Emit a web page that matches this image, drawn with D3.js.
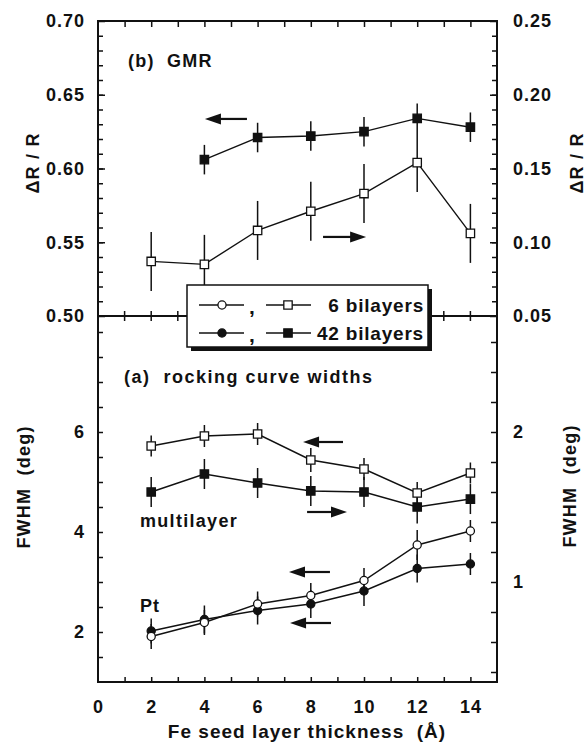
<!DOCTYPE html>
<html>
<head>
<meta charset="utf-8">
<script src="https://cdn.jsdelivr.net/npm/d3@7/dist/d3.min.js"></script>
<style>
  body { margin: 0; background: #fff; }
  svg text { font-family: "Liberation Sans", Arial, Helvetica, sans-serif; font-weight: bold; fill: #111; white-space: pre; }
</style>
</head>
<body>
<svg id="chart" width="587" height="744"></svg>
<script>
// Fe seed layer thickness (Å)
const thickness = [2, 4, 6, 8, 10, 12, 14];
const thickness42Gmr = [4, 6, 8, 10, 12, 14];

// (b) GMR : 42 bilayers on left axis, 6 bilayers on right axis
const gmr42 = [0.606, 0.621, 0.622, 0.625, 0.634, 0.628];
const gmr42Err = [0.010, 0.010, 0.010, 0.010, 0.010, 0.010];
const gmr6 = [0.087, 0.085, 0.108, 0.121, 0.133, 0.154, 0.106];
const gmr6Err = [0.020, 0.020, 0.020, 0.020, 0.020, 0.020, 0.020];

// (a) rocking curve widths, FWHM (deg)
const fwhm6Multi = [5.72, 5.92, 5.96, 5.44, 5.26, 4.78, 5.18];        // left axis
const fwhm6MultiErr = [0.21, 0.22, 0.22, 0.24, 0.22, 0.22, 0.21];
const fwhm42Multi = [1.60, 1.72, 1.66, 1.607, 1.60, 1.50, 1.553];     // right axis
const fwhm42MultiErr = [0.10, 0.10, 0.10, 0.10, 0.10, 0.11, 0.10];
const fwhm6Pt = [1.91, 2.19, 2.56, 2.73, 3.03, 3.74, 4.02];           // left axis
const fwhm6PtErr = [0.25, 0.25, 0.25, 0.25, 0.25, 0.30, 0.22];
const fwhm42Pt = [2.02, 2.25, 2.43, 2.56, 2.82, 3.27, 3.36];          // left axis
const fwhm42PtErr = [0.25, 0.28, 0.28, 0.28, 0.30, 0.28, 0.22];

// tick labels
const xTickLabels = [0, 2, 4, 6, 8, 10, 12, 14];
const gmrLeftTicks = [0.50, 0.55, 0.60, 0.65, 0.70];
const gmrRightTicks = [0.05, 0.10, 0.15, 0.20, 0.25];
const fwhmLeftTicks = [2, 4, 6];
const fwhmRightTicks = [1, 2];

const FRAME = { left: 98, right: 497, top: 21, mid: 316, bottom: 682 };
const svg = d3.select('#chart');

const x = d3.scaleLinear().domain([0, 15]).range([FRAME.left, FRAME.right]);
const yGmrLeft = d3.scaleLinear().domain([0.50, 0.70]).range([FRAME.mid, FRAME.top]);
const yGmrRight = d3.scaleLinear().domain([0.05, 0.25]).range([FRAME.mid, FRAME.top]);
const yFwhmLeft = d3.scaleLinear().domain([1, 8.32]).range([FRAME.bottom, FRAME.mid]);
const yFwhmRight = d3.scaleLinear().domain([1 / 3, 8.32 / 3]).range([FRAME.bottom, FRAME.mid]);

function styleAxis (g) {
  g.select('.domain').remove();
  g.selectAll('line').attr('stroke', '#111').attr('stroke-width', 1.5);
  g.selectAll('text')
    .attr('font-size', 18)
    .attr('letter-spacing', 1)
    .attr('fill', '#111');
}

function drawAxis (axis, tx, ty) {
  svg.append('g')
    .attr('transform', 'translate(' + tx + ',' + ty + ')')
    .call(axis)
    .call(styleAxis);
}

function range (a, b, step) {
  return d3.range(Math.round(a / step), Math.round(b / step) + 1).map(function (k) { return +(k * step).toFixed(4); });
}

// axes
drawAxis(d3.axisBottom(x).tickValues(d3.range(1, 15)).tickSizeInner(-5).tickSizeOuter(0).tickFormat(''), 0, FRAME.bottom);
drawAxis(d3.axisBottom(x).tickValues(xTickLabels).tickSize(0).tickPadding(18).tickFormat(d3.format('d')), 0, FRAME.bottom);
drawAxis(d3.axisTop(x).tickValues(d3.range(1, 15)).tickSizeInner(-6).tickSizeOuter(0).tickFormat(''), 0, FRAME.top);

drawAxis(d3.axisLeft(yGmrLeft).tickValues(range(0.51, 0.69, 0.01)).tickSizeInner(-5).tickSizeOuter(0).tickFormat(''), FRAME.left, 0);
drawAxis(d3.axisLeft(yGmrLeft).tickValues(gmrLeftTicks).tickSizeInner(-7).tickSizeOuter(0).tickPadding(13).tickFormat(d3.format('.2f')), FRAME.left, 0);
drawAxis(d3.axisRight(yGmrRight).tickValues(range(0.06, 0.24, 0.01)).tickSizeInner(-5).tickSizeOuter(0).tickFormat(''), FRAME.right, 0);
drawAxis(d3.axisRight(yGmrRight).tickValues(gmrRightTicks).tickSizeInner(-7).tickSizeOuter(0).tickPadding(16).tickFormat(d3.format('.2f')), FRAME.right, 0);

drawAxis(d3.axisLeft(yFwhmLeft).tickValues(range(1.5, 8, 0.5)).tickSizeInner(-5).tickSizeOuter(0).tickFormat(''), FRAME.left, 0);
drawAxis(d3.axisLeft(yFwhmLeft).tickValues(fwhmLeftTicks).tickSize(0).tickPadding(13).tickFormat(d3.format('d')), FRAME.left, 0);
drawAxis(d3.axisRight(yFwhmRight).tickValues(range(0.4, 2.6, 0.2)).tickSizeInner(-6).tickSizeOuter(0).tickFormat(''), FRAME.right, 0);
drawAxis(d3.axisRight(yFwhmRight).tickValues(fwhmRightTicks).tickSize(0).tickPadding(16).tickFormat(d3.format('d')), FRAME.right, 0);

// divider between the two panels, ticks crossing it
svg.append('line')
  .attr('x1', FRAME.left).attr('x2', FRAME.right)
  .attr('y1', FRAME.mid).attr('y2', FRAME.mid)
  .attr('stroke', '#111').attr('stroke-width', 1.8);
svg.append('g').selectAll('line')
  .data(d3.range(1, 15))
  .join('line')
  .attr('x1', function (d) { return x(d); }).attr('x2', function (d) { return x(d); })
  .attr('y1', FRAME.mid - 5).attr('y2', FRAME.mid + 5)
  .attr('stroke', '#111').attr('stroke-width', 1.5);

// frame
svg.append('rect')
  .attr('x', FRAME.left).attr('y', FRAME.top)
  .attr('width', FRAME.right - FRAME.left).attr('height', FRAME.bottom - FRAME.top)
  .attr('fill', 'none').attr('stroke', '#111').attr('stroke-width', 2);

function drawSeries (xs, vs, errs, yScale, shape, filled) {
  let g = svg.append('g');
  let pts = xs.map(function (d, i) { return { x: d, v: vs[i], e: errs[i] }; });
  g.selectAll('line.err')
    .data(pts)
    .join('line')
    .attr('class', 'err')
    .attr('x1', function (d) { return x(d.x); }).attr('x2', function (d) { return x(d.x); })
    .attr('y1', function (d) { return yScale(d.v - d.e); })
    .attr('y2', function (d) { return yScale(d.v + d.e); })
    .attr('stroke', '#111').attr('stroke-width', 1.5);
  g.append('path')
    .datum(pts)
    .attr('d', d3.line().x(function (d) { return x(d.x); }).y(function (d) { return yScale(d.v); }))
    .attr('fill', 'none').attr('stroke', '#111').attr('stroke-width', 1.4);
  let sym = d3.symbol().type(shape === 'square' ? d3.symbolSquare : d3.symbolCircle)
    .size(shape === 'square' ? 70 : 52);
  g.selectAll('path.mark')
    .data(pts)
    .join('path')
    .attr('class', 'mark')
    .attr('d', sym)
    .attr('transform', function (d) { return 'translate(' + x(d.x) + ',' + yScale(d.v) + ')'; })
    .attr('fill', filled ? '#111' : '#fff')
    .attr('stroke', '#111').attr('stroke-width', 1.3);
}

drawSeries(thickness, gmr6, gmr6Err, yGmrRight, 'square', false);
drawSeries(thickness42Gmr, gmr42, gmr42Err, yGmrLeft, 'square', true);
drawSeries(thickness, fwhm42Multi, fwhm42MultiErr, yFwhmRight, 'square', true);
drawSeries(thickness, fwhm6Multi, fwhm6MultiErr, yFwhmLeft, 'square', false);
drawSeries(thickness, fwhm42Pt, fwhm42PtErr, yFwhmLeft, 'circle', true);
drawSeries(thickness, fwhm6Pt, fwhm6PtErr, yFwhmLeft, 'circle', false);

// arrows telling which axis a series belongs to (data coordinates)
const arrows = [
  { from: 5.6, to: 4.02, v: 0.6336, y: yGmrLeft },
  { from: 8.46, to: 10.08, v: 0.5536, y: yGmrLeft },
  { from: 9.21, to: 7.71, v: 5.8, y: yFwhmLeft },
  { from: 7.86, to: 9.36, v: 4.4, y: yFwhmLeft },
  { from: 8.72, to: 7.18, v: 3.2, y: yFwhmLeft },
  { from: 8.76, to: 7.22, v: 2.18, y: yFwhmLeft }
];
arrows.forEach(function (a) {
  let x0 = x(a.from);
  let x1 = x(a.to);
  let yy = a.y(a.v);
  let dir = x1 > x0 ? 1 : -1;
  svg.append('line')
    .attr('x1', x0).attr('x2', x1 - dir * 12)
    .attr('y1', yy).attr('y2', yy)
    .attr('stroke', '#111').attr('stroke-width', 2.2);
  svg.append('path')
    .attr('d', 'M' + x1 + ',' + yy + 'L' + (x1 - dir * 16) + ',' + (yy - 5.5) + 'L' + (x1 - dir * 16) + ',' + (yy + 5.5) + 'Z')
    .attr('fill', '#111');
});

// legend
const legendRows = [
  { label: '6 bilayers', filled: false },
  { label: '42 bilayers', filled: true }
];
const lg = svg.append('g');
lg.append('rect').attr('x', 191).attr('y', 289).attr('width', 241).attr('height', 62).attr('fill', '#111');
lg.append('rect').attr('x', 187).attr('y', 285).attr('width', 241).attr('height', 62)
  .attr('fill', '#fff').attr('stroke', '#111').attr('stroke-width', 1.5);
legendRows.forEach(function (row, i) {
  let yy = 305 + i * 28;
  let fill = row.filled ? '#111' : '#fff';
  lg.append('line').attr('x1', 199).attr('x2', 244).attr('y1', yy).attr('y2', yy).attr('stroke', '#111').attr('stroke-width', 1.4);
  lg.append('path').attr('d', d3.symbol().type(d3.symbolCircle).size(52)).attr('transform', 'translate(222,' + yy + ')')
    .attr('fill', fill).attr('stroke', '#111').attr('stroke-width', 1.3);
  lg.append('text').attr('x', 249).attr('y', yy + 9).attr('font-size', 21).text(',');
  lg.append('line').attr('x1', 266).attr('x2', 311).attr('y1', yy).attr('y2', yy).attr('stroke', '#111').attr('stroke-width', 1.4);
  lg.append('path').attr('d', d3.symbol().type(d3.symbolSquare).size(70)).attr('transform', 'translate(288,' + yy + ')')
    .attr('fill', fill).attr('stroke', '#111').attr('stroke-width', 1.3);
  lg.append('text').attr('x', 424).attr('y', yy + 7).attr('text-anchor', 'end')
    .attr('font-size', 19).attr('letter-spacing', 0.8).text(row.label);
});

// panel labels
function label (txt, tx, ty, size, spacing) {
  svg.append('text').attr('x', tx).attr('y', ty)
    .attr('font-size', size).attr('letter-spacing', spacing).text(txt);
}
label('(b)  GMR', 128, 67, 18, 1.2);
label('(a)  rocking curve widths', 124, 383, 18, 1.5);
label('multilayer', 140, 527, 18, 1.3);
label('Pt', 140, 612, 18, 1);

// axis titles
function rotatedTitle (txt, cx, cy) {
  svg.append('text')
    .attr('transform', 'translate(' + cx + ',' + cy + ') rotate(-90)')
    .attr('text-anchor', 'middle').attr('dy', '0.35em')
    .attr('font-size', 18).attr('letter-spacing', 1.2).text(txt);
}
rotatedTitle('\u0394R / R', 33, 163);
rotatedTitle('\u0394R / R', 577, 163);
rotatedTitle('FWHM  (deg)', 24, 487);
rotatedTitle('FWHM  (deg)', 570, 486);

svg.append('text')
  .attr('x', 307).attr('y', 738).attr('text-anchor', 'middle')
  .attr('font-size', 19).attr('letter-spacing', 1).text('Fe seed layer thickness  (\u00c5)');
</script>
</body>
</html>
